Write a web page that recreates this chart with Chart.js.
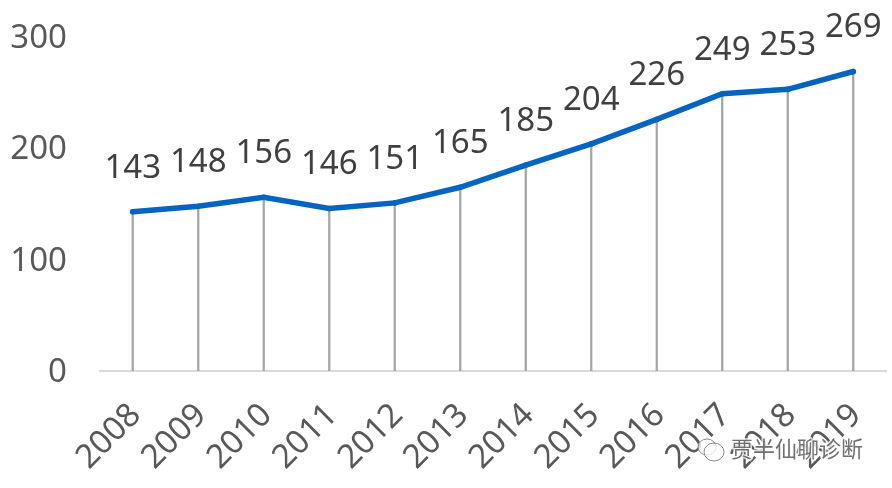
<!DOCTYPE html>
<html>
<head>
<meta charset="utf-8">
<style>
  html, body { margin: 0; padding: 0; background: #fff; }
  #wrap { width: 892px; height: 488px; }
</style>
<script src="https://cdn.jsdelivr.net/npm/chart.js@4"></script>
</head>
<body>
<div id="wrap"><canvas id="chart" width="892" height="488"></canvas></div>
<script>
'use strict';

const years = ['2008', '2009', '2010', '2011', '2012', '2013', '2014', '2015', '2016', '2017', '2018', '2019'];
const values = [143, 148, 156, 146, 151, 165, 185, 204, 226, 249, 253, 269];
const yTicks = [0, 100, 200, 300];
const watermark = '贾半仙聊诊断';

const FONT = "'Noto Sans', 'Open Sans', sans-serif";

// value labels above the line points
const valueLabels = {
    id: 'valueLabels',
    afterDatasetsDraw(chart) {
        const ctx = chart.ctx;
        const pts = chart.getDatasetMeta(0).data;
        ctx.save();
        ctx.font = '33px ' + FONT;
        ctx.fillStyle = '#404040';
        ctx.textAlign = 'center';
        ctx.textBaseline = 'middle';
        pts.forEach((p, i) => ctx.fillText(String(values[i]), p.x, p.y - 43.5));
        ctx.restore();
    },
};

// wechat style mark bottom right
const stamp = {
    id: 'stamp',
    afterDraw(chart) {
        const ctx = chart.ctx;
        ctx.save();
        ctx.lineWidth = 1;
        ctx.strokeStyle = '#8a8a8a';
        ctx.fillStyle = 'rgba(255,255,255,0.75)';
        ctx.beginPath();
        ctx.ellipse(707, 447, 9, 8, 0, 0, Math.PI * 2);
        ctx.fill();
        ctx.stroke();
        ctx.beginPath();
        ctx.ellipse(714, 452, 10, 9, 0, 0, Math.PI * 2);
        ctx.fill();
        ctx.stroke();
        ctx.font = "22px 'Noto Sans CJK SC', sans-serif";
        ctx.textAlign = 'left';
        ctx.textBaseline = 'middle';
        ctx.lineWidth = 3;
        ctx.strokeStyle = 'rgba(255,255,255,0.8)';
        ctx.strokeText(watermark, 731, 449);
        ctx.fillStyle = '#707070';
        ctx.fillText(watermark, 731, 449);
        ctx.restore();
    },
};

new Chart(document.getElementById('chart'), {
    data: {
        labels: years,
        datasets: [
            {
                type: 'line',
                data: values,
                order: 1,
                borderColor: '#0563c1',
                backgroundColor: '#0563c1',
                borderWidth: 5.5,
                tension: 0,
                borderCapStyle: 'round',
                pointRadius: 2.8,
                pointBorderWidth: 0,
            },
            {
                type: 'bar',
                data: values,
                order: 2,
                backgroundColor: '#a5a5a5',
                barThickness: 1.6,
            },
        ],
    },
    options: {
        responsive: false,
        animation: false,
        devicePixelRatio: 1,
        layout: { padding: { top: 37, right: 6, left: 0, bottom: 0 } },
        plugins: { legend: { display: false }, tooltip: { enabled: false } },
        scales: {
            x: {
                offset: true,
                grid: { display: false, drawTicks: false },
                border: { color: '#d9d9d9', width: 2 },
                ticks: {
                    color: '#595959',
                    font: { family: FONT, size: 33 },
                    minRotation: 45,
                    maxRotation: 45,
                    padding: 25,
                    labelOffset: 3,
                    autoSkip: false,
                },
                afterFit(scale) {
                    scale.height = 117;
                    scale.paddingLeft = 0;
                    scale.paddingRight = 0;
                },
            },
            y: {
                min: 0,
                max: 300,
                afterBuildTicks(scale) { scale.ticks = yTicks.map(v => ({ value: v })); },
                grid: { display: false, drawTicks: false },
                border: { display: false },
                ticks: {
                    color: '#595959',
                    font: { family: FONT, size: 33 },
                    padding: 33,
                    labelOffset: 1.5,
                },
                afterFit(scale) {
                    scale.width = 100;
                    scale.paddingTop = 0;
                    scale.paddingBottom = 0;
                },
            },
        },
    },
    plugins: [valueLabels, stamp],
});
</script>
</body>
</html>
